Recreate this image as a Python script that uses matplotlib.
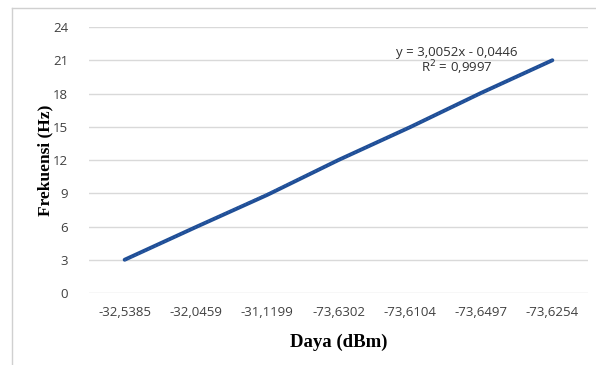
import numpy as np
import matplotlib.pyplot as plt
from matplotlib.lines import Line2D

# data
daya = ['-32,5385', '-32,0459', '-31,1199', '-73,6302', '-73,6104', '-73,6497', '-73,6254']
frekuensi = [3.0, 5.95, 8.85, 12.0, 14.95, 18.05, 21.0]
y_ticks = [0, 3, 6, 9, 12, 15, 18, 21, 24]

fig = plt.figure(figsize=(5.96, 3.65), dpi=100)
ax = fig.add_axes([89/596, 1 - 293/365, 499/596, 266/365])

x = np.arange(len(daya))
ax.plot(x, frekuensi, color='#1f4e96', lw=2.8, solid_capstyle='round', zorder=3)

# linear trendline (dotted, as in Excel)
coef = np.polyfit(x + 1, frekuensi, 1)
ax.plot(x, np.polyval(coef, x + 1), color='#2f5fa8', lw=1.0, ls=':', zorder=4)

ax.set_xlim(-0.5, len(daya) - 0.5)
ax.set_ylim(0, 24)
ax.set_yticks(y_ticks)
ax.set_xticks(x)
ax.set_xticklabels(daya)
ax.grid(axis='y', color='#d9d9d9', lw=1.0)
ax.set_axisbelow(True)
for s in ax.spines.values():
    s.set_visible(False)
ax.tick_params(length=0, labelsize=9.5, labelcolor='#404040')
for t in ax.get_xticklabels() + ax.get_yticklabels():
    t.set_family('Open Sans')
ax.tick_params(axis='x', pad=9)
ax.tick_params(axis='y', pad=15)

ax.set_xlabel('Daya (dBm)', family='Liberation Serif', fontweight='bold', fontsize=13.5, labelpad=11)
ax.set_ylabel('Frekuensi (Hz)', family='Liberation Serif', fontweight='bold', fontsize=12.5, labelpad=0)

ax.text(0.737, 0.906, 'y = 3,0052x - 0,0446', transform=ax.transAxes, ha='center', va='center',
        fontsize=9.5, family='Open Sans', color='#303030')
ax.text(0.737, 0.846, 'R$^2$ = 0,9997', transform=ax.transAxes, ha='center', va='center',
        fontsize=9.5, family='Open Sans', color='#303030')

# chart border from the screenshot
fig.add_artist(Line2D([12/596, 12/596], [0, 1 - 8/365], transform=fig.transFigure, color='#d0d0d0', lw=1))
fig.add_artist(Line2D([12/596, 1], [1 - 8/365, 1 - 8/365], transform=fig.transFigure, color='#d0d0d0', lw=1))

fig.savefig('out.png', dpi=100)
